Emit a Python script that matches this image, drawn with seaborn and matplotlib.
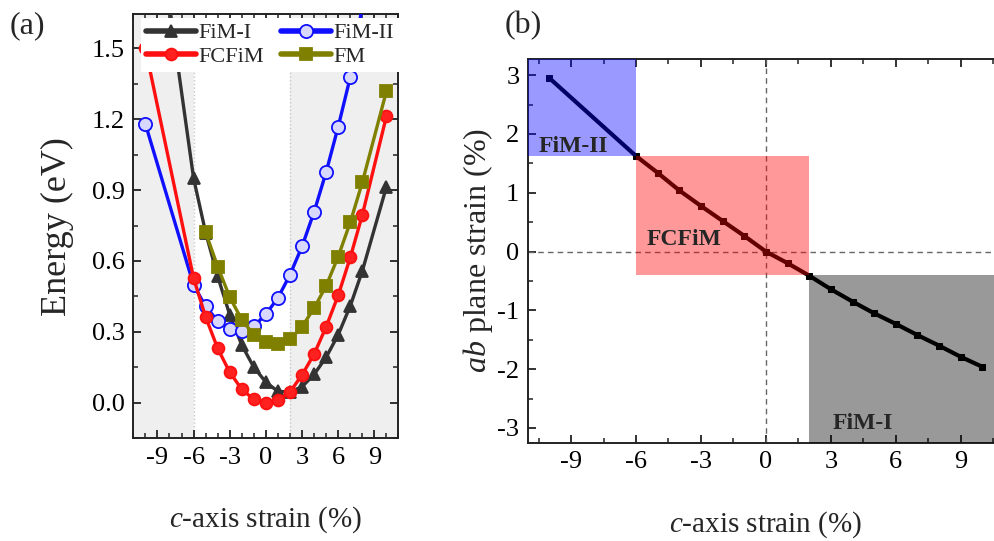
import numpy as np
import pandas as pd
import matplotlib
matplotlib.use("Agg")
import matplotlib.pyplot as plt
from matplotlib.ticker import MultipleLocator, FormatStrFormatter
from matplotlib.patches import Rectangle
import seaborn as sns

# ---------------- data: panel (a) ----------------
x_fim1 = [-8, -6, -5, -4, -3, -2, -1, 0, 1, 2, 3, 4, 5, 6, 7, 8, 10]
e_fim1 = [1.68, 0.95, 0.72, 0.535, 0.372, 0.244, 0.15, 0.087, 0.048, 0.046, 0.068, 0.12, 0.193, 0.288, 0.41, 0.558, 0.914]

x_fim2 = [-10, -6, -5, -4, -3, -2, -1, 0, 1, 2, 3, 4, 5, 6, 7, 8]
e_fim2 = [1.18, 0.498, 0.408, 0.346, 0.312, 0.302, 0.324, 0.375, 0.444, 0.542, 0.662, 0.808, 0.977, 1.169, 1.378, 1.68]

x_fcfim = [-10, -6, -5, -4, -3, -2, -1, 0, 1, 2, 3, 4, 5, 6, 7, 8, 10]
e_fcfim = [1.50, 0.527, 0.363, 0.23, 0.129, 0.057, 0.014, 0.0, 0.011, 0.046, 0.118, 0.206, 0.322, 0.455, 0.615, 0.795, 1.213]

x_fm = [-5, -4, -3, -2, -1, 0, 1, 2, 3, 4, 5, 6, 7, 8, 10]
e_fm = [0.721, 0.576, 0.447, 0.351, 0.287, 0.258, 0.247, 0.268, 0.322, 0.401, 0.495, 0.619, 0.764, 0.933, 1.319]

shade_a = [(-11, -6), (2, 11)]

# ---------------- data: panel (b) ----------------
x_c = [-10, -6, -5, -4, -3, -2, -1, 0, 1, 2, 3, 4, 5, 6, 7, 8, 9, 10]
y_ab = [2.95, 1.625, 1.34, 1.04, 0.776, 0.521, 0.267, 0.0, -0.197, -0.41, -0.64, -0.85, -1.05, -1.23, -1.42, -1.60, -1.79, -1.96]

region_names = ["FiM-II", "FCFiM", "FiM-I"]
region_x = [(-11, -6), (-6, 2), (2, 11)]
region_y = [(1.625, 3.3), (-0.40, 1.625), (-3.3, -0.40)]
region_colors = ["blue", "red", "black"]
region_label_xy = [(-10.5, 1.79), (-5.5, 0.2), (3.1, -2.93)]

# ---------------- style ----------------
sns.set_theme(style="ticks")
plt.rcParams["font.family"] = ["Liberation Serif", "DejaVu Serif"]
plt.rcParams["mathtext.fontset"] = "custom"
plt.rcParams["mathtext.rm"] = "Liberation Serif"
plt.rcParams["mathtext.it"] = "Liberation Serif:italic"
plt.rcParams["axes.unicode_minus"] = False
plt.rcParams["axes.edgecolor"] = "#222222"
plt.rcParams["axes.linewidth"] = 1.4

fig = plt.figure(figsize=(9.95, 5.41), dpi=100)
axA = fig.add_axes([0.134, 0.190, 0.2665, 0.784])
axB = fig.add_axes([0.5304, 0.1817, 0.4787, 0.7087])

def style_ticks(ax, xmaj, xmin, ymaj, ymin):
    ax.xaxis.set_major_locator(MultipleLocator(xmaj))
    ax.xaxis.set_minor_locator(MultipleLocator(xmin))
    ax.yaxis.set_major_locator(MultipleLocator(ymaj))
    ax.yaxis.set_minor_locator(MultipleLocator(ymin))
    ax.tick_params(which="both", direction="in", top=True, right=True,
                   labelsize=19, colors="#222222", pad=6)
    ax.tick_params(which="major", length=6, width=1.3)
    ax.tick_params(which="minor", length=3.5, width=1.1)
    for lab in ax.get_xticklabels() + ax.get_yticklabels():
        lab.set_color("black")

# ---------------- panel (a) ----------------
for x0, x1 in shade_a:
    axA.axvspan(x0, x1, color="#efefef", zorder=0, lw=0)
    for xb in (x0, x1):
        if -11 < xb < 11:
            axA.axvline(xb, color="#c8c8c8", ls=":", lw=1, zorder=0.5)

series = [
    ("FiM-I", x_fim1, e_fim1, "#333333", "^", "#333333", 9),
    ("FiM-II", x_fim2, e_fim2, "#1010ff", "o", "#d8d8ff", 9.5),
    ("FCFiM", x_fcfim, e_fcfim, "#ff1010", "o", "#ff2020", 8.5),
    ("FM", x_fm, e_fm, "#808000", "s", "#808000", 8),
]
for name, xs, ys, col, mk, fc, ms in series:
    df = pd.DataFrame({"x": xs, "y": ys})
    sns.lineplot(data=df, x="x", y="y", ax=axA, color=col, lw=2.4,
                 marker=mk, markersize=ms, markerfacecolor=fc,
                 markeredgecolor=col, markeredgewidth=1.3, label=name,
                 zorder=3, sort=True)

axA.set_xlim(-11, 11)
axA.set_ylim(-0.15, 1.645)
style_ticks(axA, 3, 1, 0.3, 0.15)
axA.yaxis.set_major_formatter(FormatStrFormatter("%.1f"))
axA.set_xlabel("$c$-axis strain (%)", fontsize=21, labelpad=26)
axA.set_ylabel("Energy (eV)", fontsize=26, labelpad=13)

h, l = axA.get_legend_handles_labels()
order = [0, 2, 1, 3]
leg = axA.legend([h[i] for i in order], [l[i] for i in order], ncol=2,
                 loc="upper left", bbox_to_anchor=(0.03, 0.99), borderaxespad=0,
                 fontsize=16, frameon=True, fancybox=False, framealpha=1,
                 edgecolor="none", handlelength=2.25, handletextpad=0.1,
                 columnspacing=0.8, labelspacing=0.15, borderpad=0.2)
for line in leg.get_lines():
    line.set_linewidth(4)
leg.set_zorder(5)

# ---------------- panel (b) ----------------
axB.axhline(0, color="#666666", ls=(0, (4, 3)), lw=1, zorder=1)
axB.axvline(0, color="#666666", ls=(0, (4, 3)), lw=1, zorder=1)
dfb = pd.DataFrame({"x": x_c, "y": y_ab})
sns.lineplot(data=dfb, x="x", y="y", ax=axB, color="black", lw=3,
             marker="s", markersize=5, markeredgecolor="black", zorder=2)
for (x0, x1), (y0, y1), col in zip(region_x, region_y, region_colors):
    axB.add_patch(Rectangle((x0, y0), x1 - x0, y1 - y0, facecolor=col,
                            alpha=0.4, lw=0, zorder=3))
for name, (tx, ty) in zip(region_names, region_label_xy):
    axB.text(tx, ty, name, fontsize=17, fontweight="bold", ha="left",
             va="center", zorder=4)

axB.set_xlim(-11, 11)
axB.set_ylim(-3.25, 3.27)
style_ticks(axB, 3, 1.5, 1, 0.5)
axB.set_xlabel("$c$-axis strain (%)", fontsize=21, labelpad=26)
axB.set_ylabel("$ab$ plane strain (%)", fontsize=23, labelpad=2)

fig.text(0.010, 0.953, "(a)", fontsize=23, va="center", ha="left")
fig.text(0.507, 0.953, "(b)", fontsize=23, va="center", ha="left")

fig.savefig("out.png", dpi=100)
